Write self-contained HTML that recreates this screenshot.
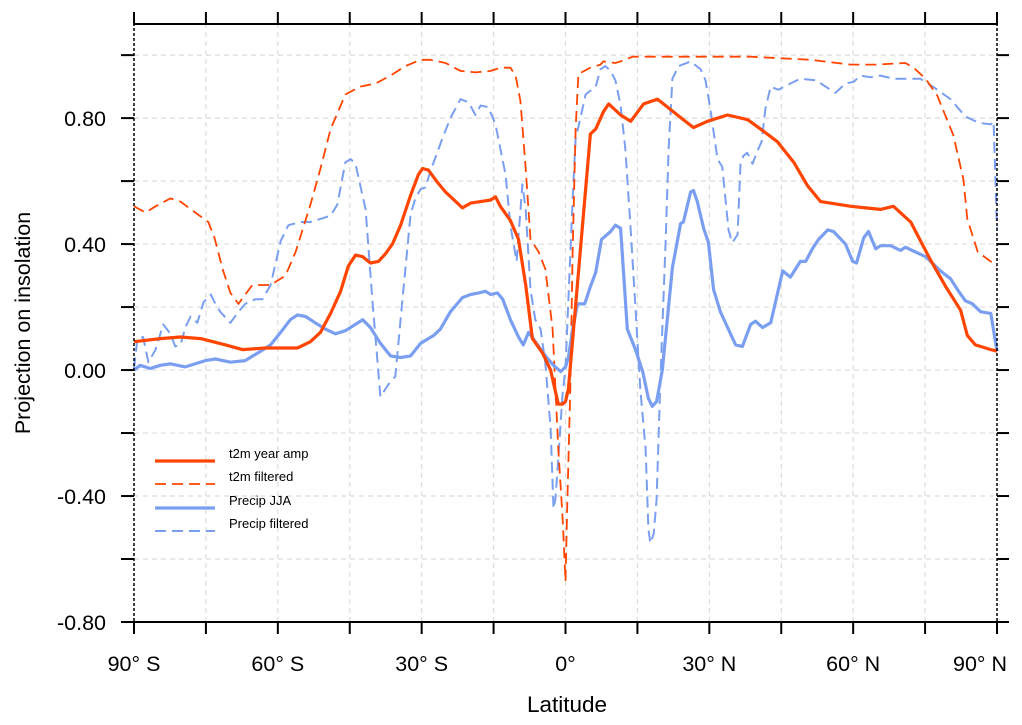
<!DOCTYPE html>
<html><head><meta charset="utf-8"><style>
html,body{margin:0;padding:0;background:#fff;}
svg{display:block;font-family:"Liberation Sans",Arial,sans-serif;}
</style></head><body>
<svg id="chart" width="1022" height="725" viewBox="0 0 1022 725" xmlns="http://www.w3.org/2000/svg">
<g id="grid"></g>
<g id="series"></g>
<g id="axes"></g>
<text x="567" y="712" font-size="22.5" text-anchor="middle">Latitude</text>
<text transform="translate(30,323) rotate(-90)" font-size="21.5" text-anchor="middle">Projection on insolation</text>
<g id="legend"></g>
</svg>
<script>
const xTickLats=[-90,-60,-30,0,30,60,90];
const xTickLabels=["90° S","60° S","30° S","0°","30° N","60° N","90° N"];
const yTickVals=[-0.8,-0.4,0,0.4,0.8];
const yTickLabels=["-0.80","-0.40","0.00","0.40","0.80"];

const t2mLat=[-90,-84.5,-80.3,-76.1,-70.9,-67.4,-62.6,-55.9,-53.2,-51.1,-49,-46.9,-45.3,-43.8,-42.3,-40.7,-39,-37.5,-36.1,-34.4,-32.3,-30.7,-29.8,-28.6,-26.9,-25,-23.6,-21.5,-19.8,-17.7,-15.6,-14.6,-13.6,-11.5,-9.8,-8.3,-6.9,-4.8,-3.1,-1.5,-0.6,0,0.6,5.2,6.3,7.9,9,11.5,13.6,16.3,19.2,24.6,26.7,29.6,33.8,38,40.7,44.2,47.6,50.5,53.2,59.5,62.6,65.7,67,68.4,72,76.1,79.3,82.4,83.8,85.5,88.7,90];
const t2mVal=[0.09,0.10,0.105,0.10,0.08,0.065,0.07,0.07,0.09,0.12,0.18,0.25,0.33,0.365,0.36,0.34,0.345,0.37,0.40,0.46,0.555,0.62,0.64,0.635,0.60,0.565,0.545,0.515,0.53,0.535,0.54,0.55,0.52,0.475,0.415,0.27,0.10,0.054,0,-0.108,-0.108,-0.10,-0.06,0.75,0.765,0.82,0.845,0.81,0.79,0.845,0.86,0.795,0.77,0.79,0.81,0.795,0.765,0.725,0.66,0.585,0.535,0.52,0.515,0.51,0.515,0.52,0.47,0.35,0.265,0.19,0.11,0.08,0.065,0.06];

const t2mFLat=[-90,-87.6,-85.5,-82.4,-80.3,-77.2,-74.5,-73.2,-71.5,-69.9,-68.2,-66.8,-65.3,-64,-61.5,-58.4,-56.3,-53.2,-51.1,-49,-45.9,-42.8,-39.6,-36.5,-33.4,-30.2,-28.2,-25,-21.9,-18.8,-15.6,-13.6,-11.5,-10.4,-9.4,-8.3,-7.3,-5.6,-4.2,-2.7,-1.5,-0.6,0,0.4,1,1.5,2.1,2.7,5.2,7.3,7.9,10.4,11.5,14,24,38.6,51.1,59.5,64.7,70.9,72.6,75.1,77.6,80.9,83,83.8,86,90];
const t2mFVal=[0.52,0.50,0.52,0.545,0.535,0.50,0.47,0.42,0.32,0.245,0.21,0.24,0.27,0.27,0.27,0.30,0.375,0.525,0.64,0.765,0.875,0.90,0.91,0.935,0.965,0.985,0.985,0.975,0.95,0.945,0.95,0.96,0.96,0.935,0.855,0.64,0.415,0.375,0.32,0.13,-0.25,-0.47,-0.67,-0.41,-0.06,0.385,0.765,0.94,0.96,0.97,0.98,0.975,0.98,0.995,0.995,0.995,0.985,0.97,0.97,0.975,0.96,0.925,0.87,0.745,0.605,0.48,0.375,0.33];

const prLat=[-90,-88.7,-86.6,-84.5,-82.4,-79.3,-75.1,-73,-69.9,-66.8,-63.6,-61.5,-59.4,-57.4,-55.9,-54.2,-52.2,-50.1,-48,-45.9,-43.8,-42.3,-40.7,-38.6,-36.5,-34.4,-32.3,-30.2,-27.5,-26.1,-24,-21.5,-19.8,-18.1,-16.7,-15.6,-14.2,-13.1,-11.5,-9.8,-8.8,-7.7,-6.3,-4.2,-2.5,-1,0,0.6,1.5,2.5,4,5.2,6.3,7.5,9.4,10.4,11.5,12.9,14.6,16.1,17.3,18.1,19,20.2,22.3,24,24.6,26.1,26.7,27.5,28.8,29.8,30.9,32.3,33.8,35.5,36.9,38.6,39.6,41.1,42.8,45.3,46.9,49,50.1,51.5,52.8,54.7,55.9,58.4,59.9,60.7,62.2,63.2,64.7,65.7,67.8,69.9,70.9,73,75.1,78.2,80.3,82,83.4,84.9,86.6,88.7,90];
const prVal=[0,0.015,0.005,0.015,0.02,0.01,0.03,0.035,0.025,0.03,0.06,0.08,0.12,0.16,0.175,0.17,0.15,0.13,0.115,0.125,0.145,0.16,0.135,0.085,0.045,0.04,0.045,0.085,0.11,0.13,0.185,0.23,0.24,0.245,0.25,0.24,0.245,0.225,0.16,0.105,0.08,0.12,0.09,0.045,0.015,-0.005,0.01,0.04,0.13,0.21,0.21,0.265,0.31,0.415,0.44,0.46,0.45,0.13,0.065,-0.005,-0.09,-0.115,-0.10,0,0.325,0.465,0.47,0.565,0.57,0.535,0.45,0.405,0.255,0.185,0.135,0.08,0.075,0.145,0.155,0.135,0.15,0.315,0.295,0.345,0.345,0.385,0.415,0.445,0.44,0.40,0.345,0.34,0.42,0.44,0.385,0.395,0.395,0.38,0.39,0.375,0.36,0.315,0.29,0.25,0.22,0.21,0.185,0.18,0.06];

const prFLat=[-90,-89.3,-88.1,-87,-85.5,-83.9,-82.4,-81.4,-80.3,-79.3,-78.2,-76.8,-75.5,-74,-73,-72,-69.9,-68.2,-66.8,-64.7,-63.2,-61.5,-59.4,-57.8,-55.3,-53.2,-51.1,-49,-47.6,-45.9,-44.8,-43.8,-41.7,-40.3,-38.6,-36.9,-35.5,-34,-32.3,-31.3,-30.2,-29.2,-28.2,-25.7,-24,-21.9,-20.2,-18.8,-17.7,-16.1,-14.6,-12.5,-11.5,-10.2,-9,-8.3,-7.3,-6.3,-5.2,-4.2,-3.1,-2.5,-2.1,-1.5,-0.6,0,0.6,1.5,2.1,3.1,4.2,6.3,7.3,8.3,9.4,10.4,11.5,12.5,13.6,14.6,15.6,16.7,17.3,17.7,18.4,19,19.8,20.9,21.5,22.3,23.6,26.1,28.2,29.2,30.2,31.7,32.7,34,34.8,35.9,36.5,37.1,37.9,39,40,40.9,41.7,42.8,44.4,46.9,49,52.2,56.3,58.4,60.1,61.5,63.6,65.7,68.4,70.9,74,77.1,80.3,83.4,86.2,88.7,89.3,90];
const prFVal=[0.005,0.10,0.105,0.025,0.065,0.145,0.115,0.075,0.08,0.135,0.17,0.15,0.215,0.24,0.21,0.185,0.15,0.185,0.21,0.225,0.225,0.27,0.41,0.46,0.47,0.47,0.48,0.49,0.525,0.66,0.67,0.655,0.51,0.225,-0.085,-0.045,-0.02,0.225,0.495,0.545,0.575,0.58,0.63,0.735,0.80,0.86,0.85,0.81,0.84,0.835,0.78,0.62,0.46,0.345,0.59,0.51,0.255,0.16,0.13,0.02,-0.185,-0.44,-0.41,-0.28,-0.075,0.005,0.225,0.545,0.735,0.80,0.875,0.90,0.955,0.965,0.95,0.92,0.84,0.70,0.445,0.195,-0.06,-0.25,-0.505,-0.55,-0.52,-0.41,-0.03,0.415,0.70,0.925,0.965,0.98,0.955,0.92,0.83,0.67,0.645,0.445,0.405,0.43,0.655,0.68,0.69,0.655,0.695,0.725,0.83,0.90,0.89,0.91,0.925,0.92,0.88,0.91,0.915,0.935,0.93,0.935,0.925,0.925,0.925,0.895,0.86,0.805,0.785,0.78,0.79,0.45];

const NS="http://www.w3.org/2000/svg";
const L=134,R=997,T=23,B=622;
const X0=-90,X1=90,Y0=-0.8,Y1=1.102;
function xs(v){return L+(v-X0)/(X1-X0)*(R-L);}
function ys(v){return B-(v-Y0)/(Y1-Y0)*(B-T);}
function mk(tag,attrs,parent){const e=document.createElementNS(NS,tag);for(const k in attrs)e.setAttribute(k,attrs[k]);parent.appendChild(e);return e;}

const grid=document.getElementById('grid');
for(let lat=-75;lat<90;lat+=15){
  const g=mk('line',{x1:xs(lat),x2:xs(lat),y1:T,y2:B,stroke:'#dcdcdc','stroke-width':1.2,'stroke-dasharray':'5,4'},grid);
  
  
}
for(let k=-3;k<=5;k++){
  const v=k*0.2;
  const g=mk('line',{x1:L,x2:R,y1:ys(v),y2:ys(v),stroke:'#dcdcdc','stroke-width':1.2,'stroke-dasharray':'5,4'},grid);
  
  
}

const ser=document.getElementById('series');
function drawLine(lats,vals,color,w,dash,name){
  let d='';
  for(let i=0;i<lats.length;i++){d+=(i?'L':'M')+xs(lats[i]).toFixed(1)+','+ys(vals[i]).toFixed(1);}
  const p=mk('path',{d:d,fill:'none',stroke:color,'stroke-width':w,'stroke-linejoin':'round'},ser);
  if(dash)p.setAttribute('stroke-dasharray',dash);
  
  
}
drawLine(prFLat,prFVal,'#7b9ff0',2,'11,6','precip-filtered-line');
drawLine(t2mFLat,t2mFVal,'#ff4500',1.8,'11,6','t2m-filtered-line');
drawLine(prLat,prVal,'#7b9ff0',3.2,null,'precip-jja-line');
drawLine(t2mLat,t2mVal,'#ff4500',3.2,null,'t2m-year-amp-line');

const ax=document.getElementById('axes');
let a;
a=mk('line',{x1:L-1,x2:R+1,y1:T+1,y2:T+1,stroke:'#000','stroke-width':2},ax);

a=mk('line',{x1:L-1,x2:R+1,y1:B,y2:B,stroke:'#000','stroke-width':2},ax);

a=mk('line',{x1:L,x2:L,y1:T,y2:B,stroke:'#000','stroke-width':1.5,'stroke-dasharray':'3,2'},ax);

a=mk('line',{x1:R,x2:R,y1:T,y2:B,stroke:'#000','stroke-width':1.5,'stroke-dasharray':'3,2'},ax);

for(let lat=-90;lat<=90;lat+=15){
  const t1=mk('line',{x1:xs(lat),x2:xs(lat),y1:B,y2:B+12,stroke:'#000','stroke-width':2},ax);
  
  const t2=mk('line',{x1:xs(lat),x2:xs(lat),y1:T+1,y2:T-11,stroke:'#000','stroke-width':2},ax);
  
}
for(let k=-4;k<=5;k++){
  const v=k*0.2;
  const t1=mk('line',{x1:L,x2:L-13,y1:ys(v),y2:ys(v),stroke:'#000','stroke-width':2},ax);
  
  const t2=mk('line',{x1:R,x2:R+12,y1:ys(v),y2:ys(v),stroke:'#000','stroke-width':2},ax);
  
}
for(let i=0;i<xTickLats.length;i++){
  const last=(i===xTickLats.length-1);
  const cx=last?xs(xTickLats[i])-17:xs(xTickLats[i]);
  const t=mk('text',{x:cx,y:671,'font-size':21.5,'text-anchor':'middle'},ax);
  t.textContent=xTickLabels[i];
  
}
for(let i=0;i<yTickVals.length;i++){
  const t=mk('text',{x:106,y:ys(yTickVals[i])+8,'font-size':21.5,'text-anchor':'end'},ax);
  t.textContent=yTickLabels[i];
  
}

const legNames=["t2m year amp","t2m filtered","Precip JJA","Precip filtered"];
const legColors=['#ff4500','#ff4500','#7b9ff0','#7b9ff0'];
const legDash=[null,'11,6',null,'11,6'];
const legW=[3.2,1.8,3.2,2];
const legY=[461,484,508,531];
const lg=document.getElementById('legend');
for(let i=0;i<legNames.length;i++){
  const g=mk('g',{},lg);
  
  
  const ln=mk('line',{x1:155,x2:215,y1:legY[i],y2:legY[i],stroke:legColors[i],'stroke-width':legW[i]},g);
  if(legDash[i])ln.setAttribute('stroke-dasharray',legDash[i]);
  const t=mk('text',{x:229,y:legY[i]-3,'font-size':13},g);
  t.textContent=legNames[i];
}
</script>
</body></html>
